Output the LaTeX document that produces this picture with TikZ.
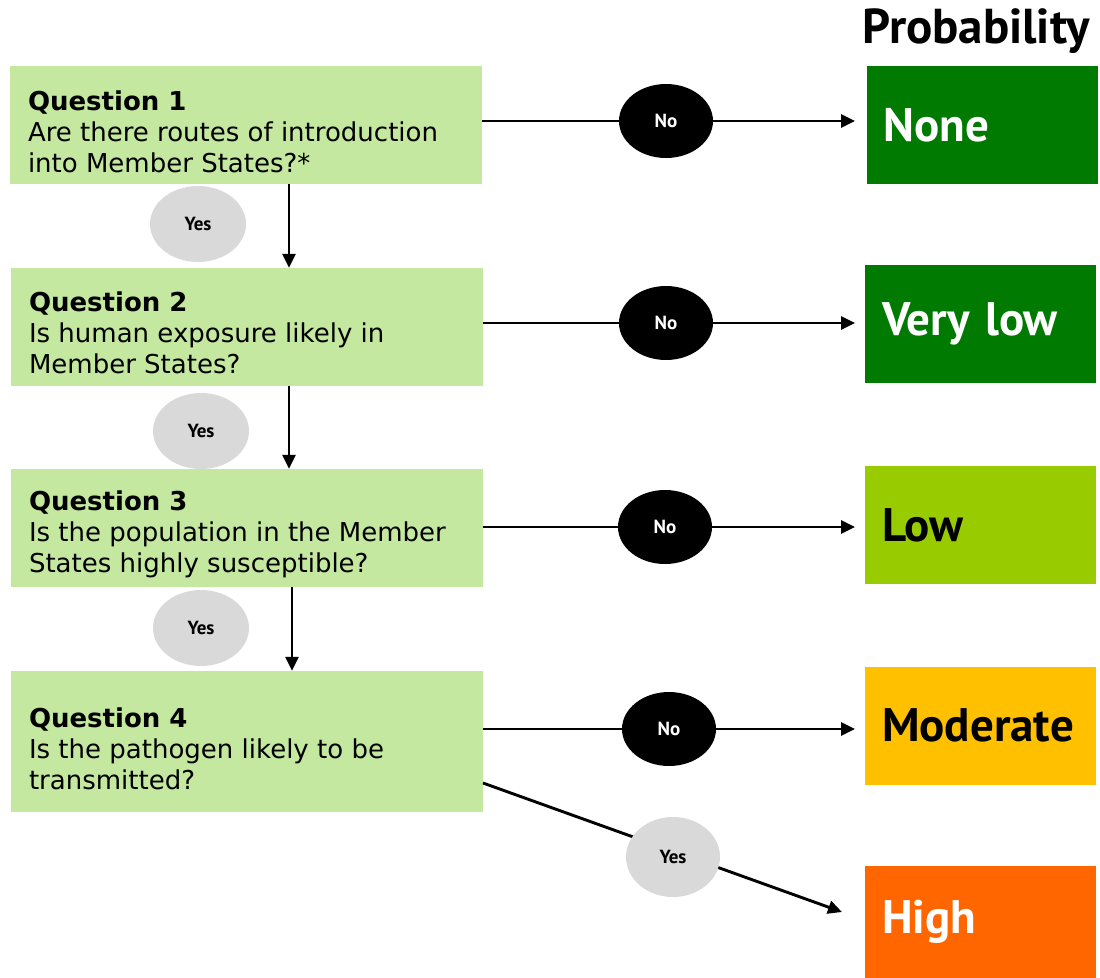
\documentclass[tikz,border=0pt]{standalone}
\usepackage{fontspec}
\setmainfont{DejaVu Sans}
\newfontfamily\pts{PT Sans}
\usetikzlibrary{arrows.meta,positioning,shapes.geometric,calc}
\definecolor{qgreen}{HTML}{C4E89F}
\definecolor{pnone}{HTML}{007A00}
\definecolor{plow}{HTML}{99CC00}
\definecolor{pmod}{HTML}{FFC000}
\definecolor{phigh}{HTML}{FF6600}
\definecolor{ygray}{HTML}{D9D9D9}
\tikzset{
  qbox/.style={fill=qgreen, draw=none, minimum width=472pt, minimum height=118pt, inner sep=0pt},
  qtext/.style={anchor=north west, inner sep=0pt, align=left, font=\fontsize{26}{31}\selectfont},
  pbox/.style={draw=none, minimum width=231pt, minimum height=118pt, text width=197pt, align=left, inner xsep=17pt, font=\pts\bfseries\fontsize{47}{50}\selectfont},
  nocirc/.style={ellipse, fill=black, text=white, minimum width=94pt, minimum height=74pt, inner sep=0pt, font=\pts\bfseries\fontsize{19}{22}\selectfont},
  yescirc/.style={ellipse, fill=ygray, text=black, minimum width=96pt, minimum height=76pt, inner sep=0pt, font=\pts\bfseries\fontsize{19}{22}\selectfont},
  conn/.style={line width=2.9pt, draw=black},
  arr/.style={conn, -{Triangle[length=14pt,width=13pt]}},
}
\begin{document}
\begin{tikzpicture}[x=1pt,y=-1pt]
\useasboundingbox (0,0) rectangle (1100,977);
% question boxes
\node[qbox] (q1) at (246,125) {};
\node[qbox] (q2) at (247,327) {};
\node[qbox] (q3) at (247,528) {};
\node[qbox, minimum height=141pt] (q4) at (247,741.5) {};
\node[qtext] (t1) at ($(q1.north west)+(18,25)$) {\textbf{Question 1}\\Are there routes of introduction\\into Member States?*};
\node[qtext] (t2) at ($(q2.north west)+(18,24)$) {\textbf{Question 2}\\Is human exposure likely in\\Member States?};
\node[qtext] (t3) at ($(q3.north west)+(18,22)$) {\textbf{Question 3}\\Is the population in the Member\\States highly susceptible?};
\node[qtext] (t4) at ($(q4.north west)+(18,37)$) {\textbf{Question 4}\\Is the pathogen likely to be\\transmitted?};
% probability boxes
\node[font=\pts\bfseries\fontsize{49}{52}\selectfont, anchor=center] (prob) at (976,31) {Probability};
\node[pbox, fill=pnone, text=white] (pn) at (982,125) {None};
\node[pbox, fill=pnone, text=white] (pv) at (980.5,324) {Very low};
\node[pbox, fill=plow, text=black] (pl) at (980.5,525) {Low};
\node[pbox, fill=pmod, text=black] (pm) at (980.5,725.5) {Moderate};
\node[pbox, fill=phigh, text=white, minimum height=112pt] (ph) at (980.5,922) {High};
% No ellipses
\node[nocirc] (n1) at (666,121) {No};
\node[nocirc] (n2) at (666,323) {No};
\node[nocirc] (n3) at (665,527) {No};
\node[nocirc] (n4) at (669,729) {No};
% Yes ellipses
\node[yescirc] (y1) at (198,224) {Yes};
\node[yescirc] (y2) at (201,431) {Yes};
\node[yescirc] (y3) at (201,628) {Yes};
% coordinates for arrow ends
\coordinate (e1) at (855,121);
\coordinate (e2) at (855,323);
\coordinate (e3) at (855,527);
\coordinate (e4) at (855,729);
% horizontal connectors
\draw[conn] (q1.east |- n1) -- (n1.west);
\draw[arr] (n1.east) -- (e1);
\draw[conn] (q2.east |- n2) -- (n2.west);
\draw[arr] (n2.east) -- (e2);
\draw[conn] (q3.east |- n3) -- (n3.west);
\draw[arr] (n3.east) -- (e3);
\draw[conn] (q4.east |- n4) -- (n4.west);
\draw[arr] (n4.east) -- (e4);
% vertical connectors
\draw[arr] ([xshift=43pt]q1.south) -- ([xshift=43pt]q1.south |- q2.north);
\draw[arr] ([xshift=42pt]q2.south) -- ([xshift=42pt]q2.south |- q3.north);
\draw[arr] ([xshift=45pt]q3.south) -- ([xshift=45pt]q3.south |- q4.north);
% diagonal with Yes
\coordinate (d0) at (483,783);
\coordinate (d1) at (842,912);
\draw[arr] (d0) -- (d1);
\node[yescirc, minimum width=94pt, minimum height=80pt] (y4) at (673,857) {Yes};
\end{tikzpicture}
\end{document}
